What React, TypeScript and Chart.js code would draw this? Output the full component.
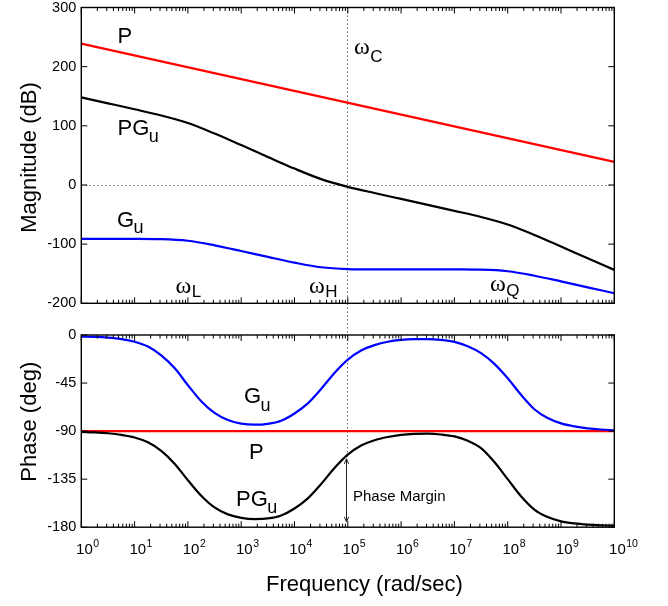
import React, { useEffect, useRef } from "react";
import { Chart, registerables } from "chart.js";

Chart.register(...registerables);

// ---------- data (log10 of frequency in rad/sec) ----------
const logFreqMag = [0, 0.5, 1, 1.5, 2, 2.5, 3, 3.5, 4, 4.5, 5, 5.5, 6, 6.5, 7, 7.5, 8, 8.5, 9, 9.5, 10];
const magPGu = [148.0, 138.0, 128.0, 117.5, 104.7, 87.0, 67.4, 47.4, 27.7, 9.9, -3.1, -13.6, -23.6, -33.6, -43.7, -54.1, -66.8, -84.4, -104.0, -124.0, -143.5];
const magGu = [-91.0, -91.0, -91.05, -91.5, -94.3, -102.0, -111.6, -121.6, -131.3, -139.1, -142.1, -142.6, -142.6, -142.6, -142.7, -143.1, -145.8, -153.4, -163.0, -173.0, -183.0];
const logFreqP = [0, 10];
const magP = [239, 39];
const phaseP = [-90, -90];

const logFreqPhase = [
  0, 0.25, 0.5, 0.75, 1, 1.25, 1.5, 1.75, 2, 2.25, 2.5, 2.75, 3, 3.25, 3.5, 3.75, 4, 4.25, 4.5, 4.75,
  5, 5.25, 5.5, 5.75, 6, 6.25, 6.5, 6.75, 7, 7.25, 7.5, 7.75, 8, 8.25, 8.5, 8.75, 9, 9.25, 9.5, 9.75, 10,
];
const phaseGu = [
  -1.5, -1.8, -2.5, -3.8, -6.3, -10.8, -19.0, -31.0, -47.0, -62.0, -73.0, -79.7, -83.0, -84.0, -83.2, -80.3,
  -73.5, -64.0, -50.5, -35.5, -23.0, -14.5, -9.5, -6.3, -4.6, -3.9, -3.8, -4.6, -6.5, -10.5, -17.0, -27.0,
  -40.5, -56.0, -69.5, -77.8, -82.8, -85.6, -87.4, -88.5, -89.2,
];
const phasePGu = [
  -90.8, -91.2, -92.0, -93.5, -96.0, -100.5, -108.5, -120.5, -136.0, -150.5, -161.5, -168.0, -171.2, -172.4,
  -171.8, -169.0, -162.5, -153.0, -139.5, -124.5, -112.0, -103.5, -98.5, -95.5, -93.5, -92.6, -92.4, -93.2,
  -95.0, -99.0, -106.0, -119.0, -135.0, -151.0, -163.5, -170.5, -174.5, -176.5, -177.6, -178.2, -178.5,
];

const magTicks = [300, 200, 100, 0, -100, -200];
const phaseTicks = [0, -45, -90, -135, -180];
const decadeExponents = [0, 1, 2, 3, 4, 5, 6, 7, 8, 9, 10];
const omegaC = 9.5e4;
const phaseMarginTop = -116;
const phaseMarginBottom = -175;

// ---------- styling ----------
const SANS = '"Liberation Sans", Arial, Helvetica, sans-serif';
const SERIF = '"Liberation Serif", "Times New Roman", serif';
const RED = "#ff0000";
const BLUE = "#0000ff";
const BLACK = "#000000";

const toXY = (logs: number[], vals: number[]) => logs.map((d, i) => ({ x: Math.pow(10, d), y: vals[i] }));

const lineDs = (logs: number[], vals: number[], color: string) => ({
  data: toXY(logs, vals),
  borderColor: color,
  backgroundColor: color,
  borderWidth: 2.2,
  pointRadius: 0,
  fill: false,
  cubicInterpolationMode: "monotone" as const,
});

type Lbl = { x: number; y: number; main: string; sub?: string; omega?: boolean; subDy: number; size?: number };

function drawLabel(ctx: CanvasRenderingContext2D, l: Lbl) {
  ctx.textAlign = "left";
  ctx.textBaseline = "alphabetic";
  ctx.fillStyle = "#000";
  ctx.font = l.omega ? `24px ${SERIF}` : `${l.size ?? 22}px ${SANS}`;
  ctx.fillText(l.main, l.x, l.y);
  const w = ctx.measureText(l.main).width;
  if (l.sub) {
    ctx.font = l.omega ? `17px ${SANS}` : `18px ${SANS}`;
    ctx.fillText(l.sub, l.x + w + (l.omega ? 0.5 : -0.5), l.y + l.subDy);
  }
}

function framePlugin(cfg: {
  yTicks: number[];
  yTitle: string;
  yTitleCenter: number;
  labels: Lbl[];
  bottomAxis: boolean;
  zeroLine: boolean;
}) {
  return {
    id: "frame",
    beforeDatasetsDraw(chart: any) {
      const { ctx, chartArea: a, scales } = chart;
      const xs = scales.x;
      const ys = scales.y;
      ctx.save();
      ctx.strokeStyle = "#666";
      ctx.lineWidth = 1;
      ctx.setLineDash([1.5, 2.5]);
      ctx.beginPath();
      if (cfg.zeroLine) {
        const py = Math.round(ys.getPixelForValue(0)) + 0.5;
        ctx.moveTo(a.left, py);
        ctx.lineTo(a.right, py);
      }
      const pc = Math.round(xs.getPixelForValue(omegaC)) + 0.5;
      if (!cfg.bottomAxis) {
        ctx.moveTo(pc, a.top);
        ctx.lineTo(pc, chart.height);
      } else {
        ctx.moveTo(pc, 0);
        ctx.lineTo(pc, ys.getPixelForValue(phaseMarginTop));
      }
      ctx.stroke();
      ctx.restore();
    },
    afterDatasetsDraw(chart: any) {
      const { ctx, chartArea: a, scales } = chart;
      const xs = scales.x;
      const ys = scales.y;
      ctx.save();
      ctx.strokeStyle = "#000";
      ctx.lineWidth = 1;
      ctx.beginPath();
      for (const k of decadeExponents) {
        const px = xs.getPixelForValue(Math.pow(10, k));
        ctx.moveTo(px, a.bottom);
        ctx.lineTo(px, a.bottom - 6);
        ctx.moveTo(px, a.top);
        ctx.lineTo(px, a.top + 6);
        if (k < 10) {
          for (let m = 2; m <= 9; m++) {
            const pm = xs.getPixelForValue(m * Math.pow(10, k));
            ctx.moveTo(pm, a.bottom);
            ctx.lineTo(pm, a.bottom - 3.5);
            ctx.moveTo(pm, a.top);
            ctx.lineTo(pm, a.top + 3.5);
          }
        }
      }
      for (const t of cfg.yTicks) {
        const py = ys.getPixelForValue(t);
        ctx.moveTo(a.left, py);
        ctx.lineTo(a.left + 6, py);
        ctx.moveTo(a.right, py);
        ctx.lineTo(a.right - 6, py);
      }
      ctx.stroke();
      ctx.lineWidth = 1.4;
      ctx.strokeRect(a.left, a.top, a.right - a.left, a.bottom - a.top);

      // phase margin arrow
      if (cfg.bottomAxis) {
        const px = Math.round(xs.getPixelForValue(omegaC)) - 0.5;
        const y1 = ys.getPixelForValue(phaseMarginTop);
        const y2 = ys.getPixelForValue(phaseMarginBottom);
        ctx.lineWidth = 1;
        ctx.strokeStyle = "#222";
        ctx.beginPath();
        ctx.moveTo(px, y1);
        ctx.lineTo(px, y2);
        ctx.moveTo(px - 2.2, y1 + 5);
        ctx.lineTo(px, y1);
        ctx.lineTo(px + 2.2, y1 + 5);
        ctx.moveTo(px - 2.2, y2 - 5);
        ctx.lineTo(px, y2);
        ctx.lineTo(px + 2.2, y2 - 5);
        ctx.stroke();
      }

      // y tick labels
      ctx.fillStyle = "#000";
      ctx.font = `14.5px ${SANS}`;
      ctx.textAlign = "right";
      ctx.textBaseline = "middle";
      for (const t of cfg.yTicks) {
        ctx.fillText(String(t), a.left - 5, ys.getPixelForValue(t));
      }

      // x tick labels
      if (cfg.bottomAxis) {
        ctx.textAlign = "left";
        ctx.textBaseline = "alphabetic";
        for (const k of decadeExponents) {
          const px = xs.getPixelForValue(Math.pow(10, k));
          ctx.font = `15px ${SANS}`;
          ctx.fillText("10", px - 5.2, a.bottom + 27);
          const w = ctx.measureText("10").width;
          ctx.font = `10.5px ${SANS}`;
          ctx.fillText(String(k), px - 5.2 + w + 0.5, a.bottom + 20);
        }
        ctx.font = `22px ${SANS}`;
        ctx.fillText("Frequency (rad/sec)", 266, a.bottom + 64);
      }

      // y title
      ctx.save();
      ctx.translate(35.5, cfg.yTitleCenter);
      ctx.rotate(-Math.PI / 2);
      ctx.font = `22px ${SANS}`;
      ctx.textAlign = "center";
      ctx.textBaseline = "alphabetic";
      ctx.fillText(cfg.yTitle, 0, 0);
      ctx.restore();

      for (const l of cfg.labels) drawLabel(ctx, l);
      ctx.restore();
    },
  };
}

function makeConfig(datasets: any[], yMin: number, yMax: number, padding: any, plugin: any): any {
  return {
    type: "line",
    data: { datasets },
    options: {
      responsive: false,
      maintainAspectRatio: false,
      animation: false,
      events: [],
      layout: { padding },
      scales: {
        x: { type: "logarithmic", min: 1, max: 1e10, display: false },
        y: { type: "linear", min: yMin, max: yMax, display: false },
      },
      plugins: { legend: { display: false }, tooltip: { enabled: false } },
    },
    plugins: [plugin],
  };
}

const TOP_H = 319;
const BOT_H = 287;

export default function App() {
  const topRef = useRef<HTMLCanvasElement>(null);
  const botRef = useRef<HTMLCanvasElement>(null);

  useEffect(() => {
    const top = new Chart(
      topRef.current!,
      makeConfig(
        [lineDs(logFreqMag, magGu, BLUE), lineDs(logFreqMag, magPGu, BLACK), lineDs(logFreqP, magP, RED)],
        -200,
        300,
        { left: 81.3, right: 53.7, top: 7.5, bottom: TOP_H - 303.3 },
        framePlugin({
          yTicks: magTicks,
          yTitle: "Magnitude (dB)",
          yTitleCenter: 157.5,
          bottomAxis: false,
          zeroLine: true,
          labels: [
            { x: 117.5, y: 43, main: "P", subDy: 0 },
            { x: 117.5, y: 135, main: "PG", sub: "u", subDy: 6.5 },
            { x: 117, y: 226.5, main: "G", sub: "u", subDy: 6 },
            { x: 175.5, y: 293, main: "ω", sub: "L", omega: true, subDy: 4 },
            { x: 309, y: 293, main: "ω", sub: "H", omega: true, subDy: 4 },
            { x: 490, y: 291, main: "ω", sub: "Q", omega: true, subDy: 5 },
            { x: 354, y: 53.5, main: "ω", sub: "C", omega: true, subDy: 8 },
          ],
        })
      )
    );
    const bot = new Chart(
      botRef.current!,
      makeConfig(
        [lineDs(logFreqPhase, phaseGu, BLUE), lineDs(logFreqPhase, phasePGu, BLACK), lineDs(logFreqP, phaseP, RED)],
        -180,
        0,
        { left: 81.3, right: 53.7, top: 335 - TOP_H, bottom: BOT_H - (527.2 - TOP_H) },
        framePlugin({
          yTicks: phaseTicks,
          yTitle: "Phase (deg)",
          yTitleCenter: 421.7 - TOP_H,
          bottomAxis: true,
          zeroLine: false,
          labels: [
            { x: 244, y: 403 - TOP_H, main: "G", sub: "u", subDy: 8 },
            { x: 249, y: 459 - TOP_H, main: "P", subDy: 0 },
            { x: 236, y: 506 - TOP_H, main: "PG", sub: "u", subDy: 6.5 },
            { x: 353, y: 501 - TOP_H, main: "Phase Margin", subDy: 0, size: 15 },
          ],
        })
      )
    );
    return () => {
      top.destroy();
      bot.destroy();
    };
  }, []);

  return (
    <div style={{ position: "absolute", left: 0, top: 0, width: 668, height: 606, background: "#fff" }}>
      <canvas
        ref={topRef}
        width={668}
        height={TOP_H}
        style={{ position: "absolute", left: 0, top: 0, width: 668, height: TOP_H }}
      />
      <canvas
        ref={botRef}
        width={668}
        height={BOT_H}
        style={{ position: "absolute", left: 0, top: TOP_H, width: 668, height: BOT_H }}
      />
    </div>
  );
}
